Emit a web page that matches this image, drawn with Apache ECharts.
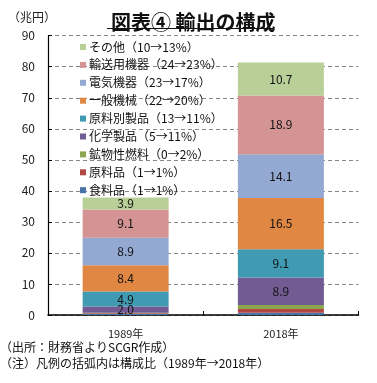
<!DOCTYPE html>
<html><head><meta charset="utf-8">
<script src="https://cdn.jsdelivr.net/npm/echarts@6/dist/echarts.min.js"></script>
<style>html,body{margin:0;padding:0;background:#fff}#c{width:377px;height:383px}</style>
</head><body><div id="c"></div>
<script>
var categories = ['1989年', '2018年'];
var seriesNames = ['食料品（1→1%）', '原料品（1→1%）', '鉱物性燃料（0→2%）', '化学製品（5→11%）', '原料別製品（13→11%）', '一般機械（22→20%）', '電気機器（23→17%）', '輸送用機器（24→23%）', 'その他（10→13%）'];
var food = [0.3, 0.7];
var rawMaterials = [0.3, 1.2];
var mineralFuels = [0.1, 1.3];
var chemicals = [2.0, 8.9];
var manufactured = [4.9, 9.1];
var machinery = [8.4, 16.5];
var electrical = [8.9, 14.1];
var transport = [9.1, 18.9];
var others = [3.9, 10.7];
var yTicks = [0, 10, 20, 30, 40, 50, 60, 70, 80, 90];
var showLabel = [false, false, false, true, true, true, true, true, true];
var colors = ['#4673a8', '#b04946', '#8ca650', '#725a92', '#3f9ab2', '#df8743', '#94a9d2', '#d49494', '#b9cf98'];
var allData = [food, rawMaterials, mineralFuels, chemicals, manufactured, machinery, electrical, transport, others];

var font = '"Noto Sans CJK JP", "Noto Sans", sans-serif';
var chart = echarts.init(document.getElementById('c'));
var series = allData.map(function (d, i) {
  return {
    name: seriesNames[i], type: 'bar', stack: 'total', data: d, barWidth: 86,
    itemStyle: { color: colors[i] },
    label: { show: showLabel[i], position: 'inside', color: '#111', fontSize: 12, fontFamily: font,
      formatter: function (p) { return p.value.toFixed(1); } },
    emphasis: { disabled: true }
  };
});
chart.setOption({
  animation: false,
  textStyle: { fontFamily: font },
  title: { text: '図表④ 輸出の構成', left: 106, top: 7,
    textStyle: { fontSize: 20, fontWeight: 'bold', color: '#111', fontFamily: font } },
  graphic: [
    { type: 'line', shape: { x1: 107, y1: 28.5, x2: 273, y2: 28.5 }, style: { stroke: '#111', lineWidth: 1.2 } },
    { type: 'text', left: 8, top: 11, style: { text: '（兆円）', fontSize: 12, fill: '#222', fontFamily: font } },
    { type: 'text', left: 0, top: 341, style: { text: '（出所：財務省よりSCGR作成）', fontSize: 12, fill: '#111', fontFamily: font } },
    { type: 'text', left: 0, top: 357, style: { text: '（注）凡例の括弧内は構成比（1989年→2018年）', fontSize: 12, fill: '#111', fontFamily: font } }
  ],
  legend: {
    orient: 'vertical', left: 75, top: 36, itemWidth: 6, itemHeight: 6, itemGap: 5.9, icon: 'rect',
    data: seriesNames.slice().reverse(),
    textStyle: { fontSize: 12, color: '#111', lineHeight: 12, fontFamily: font, padding: [0, 0, 0, -2] }
  },
  grid: { left: 48, right: 18.5, top: 35.7, bottom: 68, containLabel: false },
  xAxis: {
    type: 'category', data: categories,
    axisLine: { lineStyle: { color: '#000', width: 1.5 } },
    axisTick: { show: true, inside: true, length: 4, lineStyle: { color: '#000' } },
    axisLabel: { fontSize: 11, color: '#222', margin: 13, fontFamily: font }
  },
  yAxis: {
    type: 'value', min: yTicks[0], max: yTicks[yTicks.length - 1], interval: yTicks[1] - yTicks[0],
    axisLine: { show: true, lineStyle: { color: '#000', width: 1.2 } },
    axisTick: { show: true, inside: true, length: 4, lineStyle: { color: '#000' } },
    axisLabel: { fontSize: 12, color: '#222', margin: 13, fontFamily: font },
    splitLine: { show: true, lineStyle: { color: '#888', type: [4, 3], width: 1 } }
  },
  series: series
});
</script></body></html>
